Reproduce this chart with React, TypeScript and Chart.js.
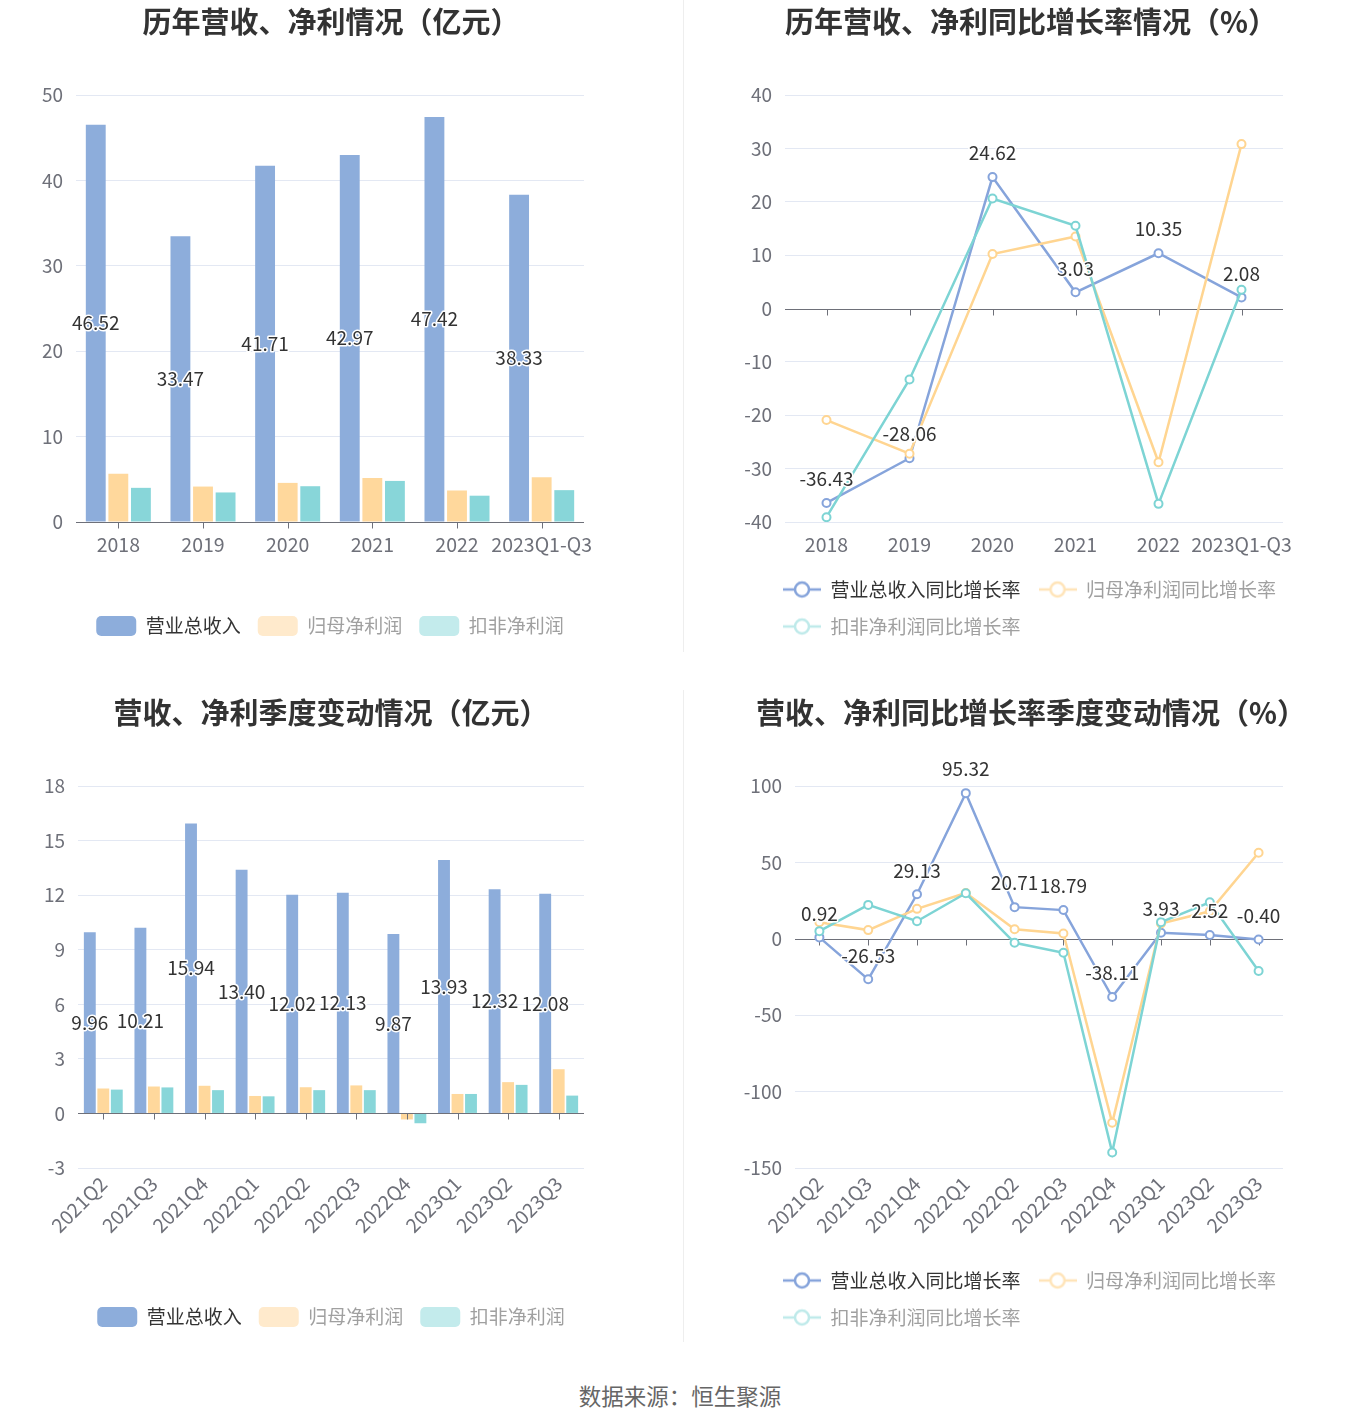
import React, { useEffect, useRef } from 'react';
import { Chart, registerables } from 'chart.js';

Chart.register(...registerables);

// ---------------- data ----------------
const yearCats = ['2018', '2019', '2020', '2021', '2022', '2023Q1-Q3'];
const yearRevenue = [46.52, 33.47, 41.71, 42.97, 47.42, 38.33];
const yearNetProfit = [5.65, 4.15, 4.58, 5.15, 3.69, 5.23];
const yearDeductProfit = [4.0, 3.46, 4.19, 4.81, 3.08, 3.73];

const yearRevenueYoY = [-36.43, -28.06, 24.62, 3.03, 10.35, 2.08];
const yearNetYoY = [-20.9, -27.2, 10.2, 13.5, -28.8, 30.8];
const yearDeductYoY = [-39.1, -13.3, 20.6, 15.5, -36.6, 3.5];

const quarterCats = ['2021Q2', '2021Q3', '2021Q4', '2022Q1', '2022Q2', '2022Q3', '2022Q4', '2023Q1', '2023Q2', '2023Q3'];
const qRevenue = [9.96, 10.21, 15.94, 13.4, 12.02, 12.13, 9.87, 13.93, 12.32, 12.08];
const qNetProfit = [1.37, 1.48, 1.52, 0.96, 1.44, 1.54, -0.33, 1.07, 1.72, 2.43];
const qDeductProfit = [1.31, 1.43, 1.28, 0.94, 1.28, 1.28, -0.54, 1.07, 1.57, 0.98];

const qRevenueYoY = [0.92, -26.53, 29.13, 95.32, 20.71, 18.79, -38.11, 3.93, 2.52, -0.4];
const qNetYoY = [10.9, 5.7, 19.6, 30.0, 6.3, 3.5, -120.4, 10.0, 18.0, 56.3];
const qDeductYoY = [5.0, 22.2, 11.5, 29.8, -2.6, -9.1, -139.8, 10.9, 23.9, -21.1];

const barSeriesNames = ['营业总收入', '归母净利润', '扣非净利润'];
const lineSeriesNames = ['营业总收入同比增长率', '归母净利润同比增长率', '扣非净利润同比增长率'];

const titles = ['历年营收、净利情况（亿元）', '历年营收、净利同比增长率情况（%）', '营收、净利季度变动情况（亿元）', '营收、净利同比增长率季度变动情况（%）'];
const sourceText = '数据来源：恒生聚源';

// ---------------- styles ----------------
const FONT = '"Noto Sans CJK SC", "Noto Sans", sans-serif';
const BAR_COLORS = ['#8DADDB', '#FFD89C', '#88D6D9'];
const BAR_LEGEND_COLORS = ['#8DADDB', '#FFEACC', '#C3EBEC'];
const LINE_COLORS = ['#86A4DB', '#FFD591', '#7DD4D4'];
const LINE_LEGEND_COLORS = ['#86A4DB', '#FFE4B8', '#BFEAEA'];
const LEGEND_TEXT = ['#333333', '#A0A0A0', '#A0A0A0'];
const GRID = '#E3E8F3';
const AXIS = '#6E7079';
const TICK_COLOR = '#6E7079';

const zeroAxisPlugin = {
  id: 'zeroAxis',
  draw(chart: any) {
    const { ctx, chartArea, scales } = chart;
    const x = scales.x;
    const y = scales.y;
    const y0 = Math.round(y.getPixelForValue(0)) + 0.5;
    ctx.save();
    ctx.strokeStyle = AXIS;
    ctx.lineWidth = 1;
    ctx.beginPath();
    ctx.moveTo(chartArea.left, y0);
    ctx.lineTo(chartArea.right, y0);
    const n = chart.data.labels.length;
    for (let i = 0; i < n; i++) {
      const px = Math.round(x.getPixelForValue(i)) + 0.5;
      ctx.moveTo(px, y0);
      ctx.lineTo(px, y0 + 6);
    }
    ctx.stroke();
    ctx.restore();
  },
  afterDatasetsDraw(chart: any, _a: any, opts: any) {
    if (opts && opts.after) zeroAxisPlugin.draw(chart);
  },
  beforeDatasetsDraw(chart: any, _a: any, opts: any) {
    if (!opts || !opts.after) zeroAxisPlugin.draw(chart);
  },
};

// moves a start-aligned legend to the right after layout
const legendShiftPlugin = {
  id: 'legendShift',
  afterLayout(chart: any, _a: any, opts: any) {
    if (chart.legend && opts && opts.shift) {
      chart.legend.left += opts.shift;
      chart.legend.right += opts.shift;
    }
  },
};

const valueLabelPlugin = {
  id: 'valueLabels',
  afterDatasetsDraw(chart: any, _a: any, opts: any) {
    const { ctx } = chart;
    const meta = chart.getDatasetMeta(0);
    const data = chart.data.datasets[0].data as number[];
    ctx.save();
    ctx.font = `19px ${FONT}`;
    ctx.textAlign = 'center';
    ctx.textBaseline = 'middle';
    ctx.lineJoin = 'round';
    ctx.lineWidth = 3;
    ctx.strokeStyle = '#ffffff';
    ctx.fillStyle = '#333333';
    meta.data.forEach((el: any, i: number) => {
      const v = data[i];
      const text = v.toFixed(2);
      const x = el.x;
      const y = opts.mode === 'bar' ? (el.y + el.base) / 2 : el.y - 24;
      ctx.strokeText(text, x, y);
      ctx.fillText(text, x, y);
    });
    ctx.restore();
  },
};

function makeLineSymbol(color: string) {
  const c = document.createElement('canvas');
  c.width = 38;
  c.height = 20;
  const g = c.getContext('2d')!;
  g.strokeStyle = color;
  g.lineWidth = 2.5;
  g.beginPath();
  g.moveTo(0, 10);
  g.lineTo(38, 10);
  g.stroke();
  g.beginPath();
  g.arc(19, 10, 7, 0, Math.PI * 2);
  g.fillStyle = '#ffffff';
  g.fill();
  g.stroke();
  return c;
}

type Geo = {
  padLeft: number;
  padTop: number;
  padRight: number;
  yWidth: number;
  xHeight: number;
  rightDummy: number;
  legendShift: number;
};

function yScale(min: number, max: number, step: number, geo: Geo) {
  return {
    type: 'linear',
    position: 'left',
    min,
    max,
    border: { display: false },
    grid: {
      drawTicks: false,
      tickLength: 0,
      color: (c: any) => (c.tick && c.tick.value === 0 ? 'rgba(0,0,0,0)' : GRID),
      lineWidth: 1,
    },
    ticks: {
      stepSize: step,
      padding: 13,
      color: TICK_COLOR,
      font: { size: 19, family: FONT },
    },
    afterFit: (s: any) => {
      s.width = geo.yWidth;
    },
  };
}

function xScale(rotated: boolean, geo: Geo, offset: boolean) {
  return {
    type: 'category',
    offset,
    border: { display: false },
    grid: { display: false, drawTicks: false, tickLength: 0 },
    ticks: {
      autoSkip: false,
      padding: rotated ? 4 : 11,
      minRotation: rotated ? 45 : 0,
      maxRotation: rotated ? 45 : 0,
      color: TICK_COLOR,
      font: { size: 19.5, family: FONT },
    },
    afterFit: (s: any) => {
      s.height = geo.xHeight;
    },
  };
}

function dummyRight(geo: Geo) {
  return {
    type: 'linear',
    position: 'right',
    border: { display: false },
    grid: { display: false, drawTicks: false },
    ticks: { display: false },
    afterFit: (s: any) => {
      s.width = geo.rightDummy;
    },
  };
}

function barConfig(cats: string[], series: number[][], yr: [number, number, number], rotated: boolean, geo: Geo) {
  return {
    type: 'bar',
    data: {
      labels: cats,
      datasets: series.map((d, i) => ({
        label: barSeriesNames[i],
        data: d,
        backgroundColor: BAR_COLORS[i],
        borderWidth: 0,
        categoryPercentage: 0.8,
        barPercentage: 0.88,
      })),
    },
    plugins: [zeroAxisPlugin, valueLabelPlugin],
    options: {
      responsive: false,
      animation: false,
      devicePixelRatio: window.devicePixelRatio || 1,
      layout: { padding: { top: geo.padTop, left: geo.padLeft, right: geo.padRight, bottom: 0 } },
      scales: {
        x: xScale(rotated, geo, true),
        y: yScale(yr[0], yr[1], yr[2], geo),
      },
      plugins: {
        title: { display: false },
        tooltip: { enabled: false },
        zeroAxis: { after: true },
        valueLabels: { mode: 'bar' },
        legend: {
          display: true,
          position: 'bottom',
          fullSize: false,
          align: 'center',
          labels: {
            font: { size: 19, family: FONT },
            padding: 17,
            boxWidth: 40,
            boxHeight: 20,
            useBorderRadius: true,
            borderRadius: 5,
            generateLabels: () =>
              barSeriesNames.map((t, i) => ({
                text: t,
                fillStyle: BAR_LEGEND_COLORS[i],
                strokeStyle: BAR_LEGEND_COLORS[i],
                lineWidth: 0,
                fontColor: LEGEND_TEXT[i],
                hidden: false,
                datasetIndex: i,
                borderRadius: 5,
              })),
          },
        },
      },
    },
  };
}

function lineConfig(cats: string[], series: number[][], yr: [number, number, number], rotated: boolean, geo: Geo) {
  const symbols = LINE_LEGEND_COLORS.map((c) => makeLineSymbol(c));
  return {
    type: 'line',
    data: {
      labels: cats,
      datasets: series.map((d, i) => ({
        label: lineSeriesNames[i],
        data: d,
        borderColor: LINE_COLORS[i],
        backgroundColor: '#ffffff',
        borderWidth: 2.5,
        pointRadius: 4,
        pointBorderWidth: 2,
        pointBackgroundColor: '#ffffff',
        pointBorderColor: LINE_COLORS[i],
        tension: 0,
        fill: false,
        order: 3 - i,
      })),
    },
    plugins: [zeroAxisPlugin, valueLabelPlugin, legendShiftPlugin],
    options: {
      responsive: false,
      animation: false,
      devicePixelRatio: window.devicePixelRatio || 1,
      layout: { padding: { top: geo.padTop, left: geo.padLeft, right: geo.padRight, bottom: 0 } },
      scales: {
        x: xScale(rotated, geo, true),
        y: yScale(yr[0], yr[1], yr[2], geo),
        yR: dummyRight(geo),
      },
      plugins: {
        title: { display: false },
        tooltip: { enabled: false },
        zeroAxis: { after: false },
        valueLabels: { mode: 'line' },
        legendShift: { shift: geo.legendShift },
        legend: {
          display: true,
          position: 'bottom',
          fullSize: true,
          align: 'start',
          labels: {
            font: { size: 19, family: FONT },
            padding: 18,
            usePointStyle: true,
            pointStyleWidth: 38,
            boxHeight: 19,
            generateLabels: () =>
              lineSeriesNames.map((t, i) => ({
                text: t,
                fillStyle: LINE_LEGEND_COLORS[i],
                strokeStyle: LINE_LEGEND_COLORS[i],
                lineWidth: 0,
                pointStyle: symbols[i],
                fontColor: LEGEND_TEXT[i],
                hidden: false,
                datasetIndex: i,
              })),
          },
        },
      },
    },
  };
}

function ChartCanvas(props: { left: number; top: number; width: number; height: number; build: () => any }) {
  const ref = useRef<HTMLCanvasElement>(null);
  useEffect(() => {
    const chart = new Chart(ref.current as HTMLCanvasElement, props.build());
    return () => chart.destroy();
  }, []);
  return (
    <canvas
      ref={ref}
      width={props.width}
      height={props.height}
      style={{ position: 'absolute', left: props.left, top: props.top, width: props.width, height: props.height }}
    />
  );
}

function Title(props: { text: string; cx: number; cy: number }) {
  return (
    <div
      style={{
        position: 'absolute',
        left: props.cx - 340,
        width: 680,
        top: props.cy - 20,
        height: 40,
        lineHeight: '40px',
        textAlign: 'center',
        fontFamily: FONT,
        fontWeight: 700,
        fontSize: 29,
        color: '#333333',
        whiteSpace: 'nowrap',
      }}
    >
      {props.text}
    </div>
  );
}

export default function App() {
  useEffect(() => {
    document.body.style.margin = '0';
    document.body.style.background = '#ffffff';
  }, []);

  const geoTL: Geo = { padLeft: 0, padTop: 95, padRight: 96, yWidth: 76, xHeight: 77, rightDummy: 0, legendShift: 0 };
  const geoTR: Geo = { padLeft: 0, padTop: 95, padRight: 0, yWidth: 105, xHeight: 40, rightDummy: 77, legendShift: 85 };
  const geoBL: Geo = { padLeft: 0, padTop: 126, padRight: 96, yWidth: 78, xHeight: 122, rightDummy: 0, legendShift: 0 };
  const geoBR: Geo = { padLeft: 0, padTop: 126, padRight: 0, yWidth: 115, xHeight: 85, rightDummy: 77, legendShift: 85 };

  return (
    <div style={{ position: 'relative', width: 1360, height: 1425, background: '#ffffff', overflow: 'hidden' }}>
      <ChartCanvas
        left={0}
        top={0}
        width={680}
        height={646}
        build={() => barConfig(yearCats, [yearRevenue, yearNetProfit, yearDeductProfit], [0, 50, 10], false, geoTL)}
      />
      <ChartCanvas
        left={680}
        top={0}
        width={680}
        height={646}
        build={() => lineConfig(yearCats, [yearRevenueYoY, yearNetYoY, yearDeductYoY], [-40, 40, 10], false, geoTR)}
      />
      <ChartCanvas
        left={0}
        top={660}
        width={680}
        height={677}
        build={() => barConfig(quarterCats, [qRevenue, qNetProfit, qDeductProfit], [-3, 18, 3], true, geoBL)}
      />
      <ChartCanvas
        left={680}
        top={660}
        width={680}
        height={677}
        build={() => lineConfig(quarterCats, [qRevenueYoY, qNetYoY, qDeductYoY], [-150, 100, 50], true, geoBR)}
      />
      <Title text={titles[0]} cx={331} cy={20} />
      <Title text={titles[1]} cx={1031} cy={20} />
      <Title text={titles[2]} cx={331} cy={711} />
      <Title text={titles[3]} cx={1031} cy={711} />
      <div style={{ position: 'absolute', left: 683, top: 0, width: 1, height: 652, background: '#EEEEEE' }} />
      <div style={{ position: 'absolute', left: 683, top: 690, width: 1, height: 652, background: '#EEEEEE' }} />
      <div
        style={{
          position: 'absolute',
          left: 0,
          width: 1360,
          top: 1380,
          height: 30,
          lineHeight: '30px',
          textAlign: 'center',
          fontFamily: FONT,
          fontSize: 22.5,
          color: '#666666',
        }}
      >
        {sourceText}
      </div>
    </div>
  );
}
